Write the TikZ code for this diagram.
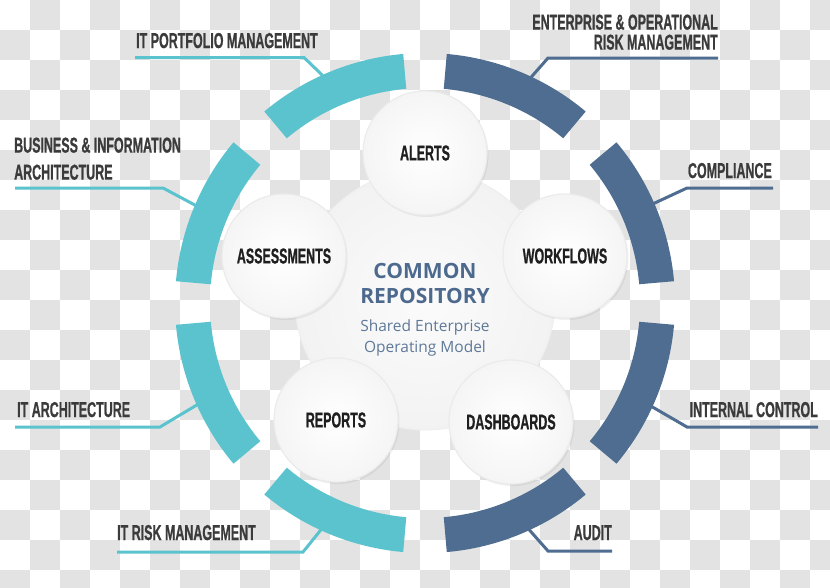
\documentclass[tikz,border=0pt]{standalone}
\usepackage{fontspec}
\setmainfont{Open Sans}
\newfontfamily\capsfont[FakeStretch=0.58,FakeBold=0.8]{Liberation Sans}
\usetikzlibrary{shadows}

\definecolor{ringteal}{HTML}{5AC3CD}
\definecolor{ringblue}{HTML}{4E6D90}
\definecolor{labgray}{HTML}{3B3B3B}
\definecolor{repoblue}{HTML}{4D6A8E}
\definecolor{checkgray}{HTML}{E3E3E3}

\tikzset{
	lbl/.style={font=\capsfont\bfseries\fontsize{21.5}{25}\selectfont, text=labgray, inner sep=0pt},
	bubble/.style={circle, minimum size=124pt, inner sep=0pt, shade, inner color=white, outer color=gray!8,
		draw=gray!16, line width=1.2pt, drop shadow={opacity=0.12, shadow xshift=1.5pt, shadow yshift=-2pt},
		font=\capsfont\bfseries\fontsize{21.5}{25}\selectfont, text=black!88},
	tealline/.style={draw=ringteal, line width=3pt},
	blueline/.style={draw=ringblue, line width=3pt},
}

\begin{document}
\begin{tikzpicture}[x=1pt, y=1pt]
	\useasboundingbox (0,0) rectangle (830,-587);

	% checkered background
	\begin{scope}
		\clip (0,0) rectangle (830,-587);
		\foreach \i in {0,...,27}
			\foreach \j in {0,...,19} {
				\pgfmathtruncatemacro{\odd}{mod(\i+\j,2)}
				\ifnum\odd=1
					\fill [checkgray] (30*\i,-30*\j) rectangle ++(30,-30);
				\fi
			}
	\end{scope}

	% labels left
	\node [lbl, anchor=base west] (portf) at (136,-48) {IT PORTFOLIO MANAGEMENT};
	\node [lbl, anchor=south west, align=left, font=\capsfont\bfseries\fontsize{21.5}{27}\selectfont] (busi) at (14,-180) {BUSINESS \& INFORMATION\\ARCHITECTURE};
	\node [lbl, anchor=base west] (itarch) at (17,-417) {IT ARCHITECTURE};
	\node [lbl, anchor=base west] (itrisk) at (117,-540) {IT RISK MANAGEMENT};

	% labels right
	\node [lbl, anchor=south east, align=right, font=\capsfont\bfseries\fontsize{21.5}{20}\selectfont] (enter) at (718,-50) {ENTERPRISE \& OPERATIONAL\\RISK MANAGEMENT};
	\node [lbl, anchor=base east] (compl) at (772,-178) {COMPLIANCE};
	\node [lbl, anchor=base east] (intern) at (818,-417) {INTERNAL CONTROL};
	\node [lbl, anchor=base east] (audit) at (612,-540) {AUDIT};

	% where the leaders meet the ring
	\begin{scope}[shift={(425,-303)}]
		\coordinate (eportf)  at (114:247);
		\coordinate (ebusi)   at (157:247);
		\coordinate (eitarch) at (204:247);
		\coordinate (eitrisk) at (245.5:247);
		\coordinate (eenter)  at (65:247);
		\coordinate (ecompl)  at (23.5:247);
		\coordinate (eintern) at (-24.5:247);
		\coordinate (eaudit)  at (-65.5:247);
	\end{scope}

	% leaders
	\draw [tealline] ([shift={(-1,-9.5)}]portf.base west) -- ++(169,0) -- (eportf);
	\draw [tealline] ([shift={(1,-8)}]busi.south west) -- ++(148,0) -- (ebusi);
	\draw [tealline] ([shift={(-2,-10)}]itarch.base west) -- ++(145,0) -- (eitarch);
	\draw [tealline] ([yshift=-12pt]itrisk.base west) -- ++(186,0) -- (eitrisk);
	\draw [blueline] ([yshift=-8pt]enter.south east) -- ++(-170,0) -- (eenter);
	\draw [blueline] ([shift={(1,-10)}]compl.base east) -- ++(-86,0) -- (ecompl);
	\draw [blueline] ([yshift=-10pt]intern.base east) -- ++(-131,0) -- (eintern);
	\draw [blueline] ([yshift=-11pt]audit.base east) -- ++(-64,0) -- (eaudit);

	% ring
	\begin{scope}[shift={(425,-303)}]
		\foreach \a in {95,140,185,230}
			\fill [ringteal] (\a:250) arc [start angle=\a, delta angle=35, radius=250]
				-- (\a+35:215) arc [start angle=\a+35, delta angle=-35, radius=215] -- cycle;
		\foreach \a in {275,320,5,50}
			\fill [ringblue] (\a:250) arc [start angle=\a, delta angle=35, radius=250]
				-- (\a+35:215) arc [start angle=\a+35, delta angle=-35, radius=215] -- cycle;
	\end{scope}

	% common repository
	\node [circle, minimum size=260pt, inner sep=0pt, shade, inner color=gray!3, outer color=gray!10, draw=gray!13, line width=1pt] (repo) at (425,-300) {};
	\node [align=center, text=repoblue, font=\bfseries\fontsize{21}{25}\selectfont] (repotitle) at (425,-283) {COMMON\\REPOSITORY};
	\node [align=center, text=repoblue!90, font=\fontsize{15.5}{21}\selectfont] (reposub) at (425,-338) {Shared Enterprise\\Operating Model};

	% bubbles
	\node [bubble] (alerts)  at (425,-153) {ALERTS};
	\node [bubble] (assess)  at (284,-256) {ASSESSMENTS};
	\node [bubble] (workfl)  at (565,-256) {WORKFLOWS};
	\node [bubble] (reports) at (336,-420) {REPORTS};
	\node [bubble] (dashb)   at (511,-422) {DASHBOARDS};

\end{tikzpicture}
\end{document}
